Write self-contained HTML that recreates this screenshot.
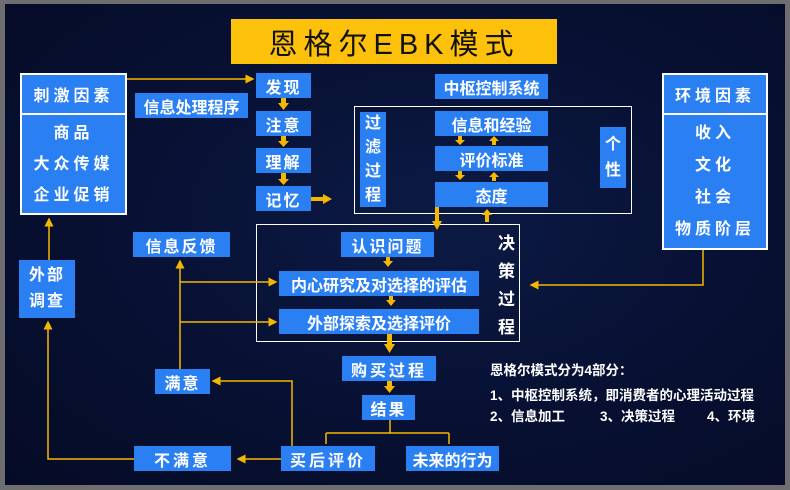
<!DOCTYPE html>
<html><head><meta charset="utf-8"><style>
*{margin:0;padding:0;box-sizing:border-box}
body{width:790px;height:490px;background:#6e6e70;position:relative;overflow:hidden;font-family:"Liberation Sans","Noto Sans CJK SC",sans-serif}
#bg{position:absolute;left:5px;top:4px;width:780px;height:481px;background:radial-gradient(ellipse at 55% 45%,#0c1a44 0%,#081134 50%,#050b26 100%)}
.b{position:absolute;background:#2a7ff3;color:#fff;font-weight:bold;font-size:16px;display:flex;align-items:center;justify-content:center;letter-spacing:2px;white-space:nowrap}
.w{border:2px solid #fff}
.f{position:absolute;border:1.5px solid #fff}
.t{position:absolute;color:#fff;font-weight:bold;font-size:13.5px;white-space:nowrap}
svg{position:absolute;left:0;top:0}
</style></head><body>
<div id="bg"></div>
<div class="b" style="left:231px;top:19px;width:326px;height:45px;background:#fdc10b;color:#111;font-size:29px;font-weight:normal;letter-spacing:6px">恩格尔EBK模式</div>

<div class="f" style="left:354px;top:106px;width:278px;height:108px"></div>
<div class="f" style="left:256px;top:224px;width:264px;height:118px"></div>

<div class="b w" style="left:20px;top:73px;width:107px;height:142px;flex-direction:column;justify-content:flex-start;letter-spacing:4px">
 <div style="height:40px;width:100%;border-bottom:2px solid #fff;display:flex;align-items:center;justify-content:center">刺激因素</div>
 <div style="line-height:31px;margin-top:3px;text-align:center">商品<br>大众传媒<br>企业促销</div></div>
<div class="b w" style="left:662px;top:73px;width:106px;height:177px;flex-direction:column;justify-content:flex-start;letter-spacing:4px">
 <div style="height:40px;width:100%;border-bottom:2px solid #fff;display:flex;align-items:center;justify-content:center">环境因素</div>
 <div style="line-height:32px;margin-top:3px;text-align:center">收入<br>文化<br>社会<br>物质阶层</div></div>

<div class="b" style="left:135px;top:93px;width:113px;height:25px;letter-spacing:0">信息处理程序</div>
<div class="b" style="left:256px;top:73px;width:55px;height:25px">发现</div>
<div class="b" style="left:256px;top:111px;width:55px;height:25px">注意</div>
<div class="b" style="left:256px;top:148px;width:55px;height:25px">理解</div>
<div class="b" style="left:256px;top:186px;width:55px;height:25px">记忆</div>
<div class="b" style="left:435px;top:74px;width:113px;height:25px;letter-spacing:0">中枢控制系统</div>
<div class="b" style="left:360px;top:112px;width:26px;height:95px;line-height:24px;white-space:normal;text-align:center;letter-spacing:0">过<br>滤<br>过<br>程</div>
<div class="b" style="left:435px;top:111px;width:113px;height:25px;letter-spacing:0">信息和经验</div>
<div class="b" style="left:435px;top:146px;width:113px;height:25px;letter-spacing:0">评价标准</div>
<div class="b" style="left:435px;top:182px;width:113px;height:25px;letter-spacing:0">态度</div>
<div class="b" style="left:600px;top:127px;width:26px;height:61px;line-height:26px;white-space:normal;text-align:center;letter-spacing:0">个<br>性</div>

<div class="b" style="left:133px;top:232px;width:97px;height:25px">信息反馈</div>
<div class="b" style="left:19px;top:260px;width:56px;height:58px;line-height:26px;white-space:normal;text-align:center">外部<br>调查</div>
<div class="b" style="left:341px;top:232px;width:93px;height:25px">认识问题</div>
<div class="b" style="left:279px;top:271px;width:200px;height:25px;letter-spacing:0">内心研究及对选择的评估</div>
<div class="b" style="left:279px;top:309px;width:200px;height:25px;letter-spacing:0">外部探索及选择评价</div>
<div class="t" style="left:498px;top:230px;font-size:17px;line-height:28px;white-space:normal;width:24px">决<br>策<br>过<br>程</div>
<div class="b" style="left:342px;top:356px;width:94px;height:25px;letter-spacing:3px">购买过程</div>
<div class="b" style="left:362px;top:395px;width:53px;height:25px">结果</div>
<div class="b" style="left:281px;top:446px;width:94px;height:25px;letter-spacing:3px">买后评价</div>
<div class="b" style="left:406px;top:446px;width:93px;height:25px;letter-spacing:0">未来的行为</div>
<div class="b" style="left:155px;top:369px;width:55px;height:25px">满意</div>
<div class="b" style="left:134px;top:446px;width:97px;height:25px;letter-spacing:3px">不满意</div>

<div class="t" style="left:490px;top:359px">恩格尔模式分为4部分：</div>
<div class="t" style="left:490px;top:384px">1、中枢控制系统，即消费者的心理活动过程</div>
<div class="t" style="left:490px;top:405px">2、信息加工</div>
<div class="t" style="left:600px;top:405px">3、决策过程</div>
<div class="t" style="left:707px;top:405px">4、环境</div>

<svg width="790" height="490">
<defs>
<marker id="a" markerWidth="6" markerHeight="6" refX="5" refY="3" orient="auto"><path d="M0,0L6,3L0,6z" fill="#f5b800"/></marker>
</defs>
<g stroke="#f5b800" stroke-width="1.5" fill="none">
<path d="M127,79H253" marker-end="url(#a)"/>
<path d="M49,260V219" marker-end="url(#a)"/>
<path d="M134,459H48V322" marker-end="url(#a)"/>
<path d="M281,459H238" marker-end="url(#a)"/>
<path d="M292,446V381H213" marker-end="url(#a)"/>
<path d="M180,369V261" marker-end="url(#a)"/>
<path d="M180,282H276" marker-end="url(#a)"/>
<path d="M180,322H276" marker-end="url(#a)"/>
<path d="M703,250V285H531" marker-end="url(#a)"/>
<path d="M390,420V433M326,433H449M326,433V444M449,433V444" />
</g>
<g fill="#f5b800">
<path d="M281,98h5v5h3l-5.5,7l-5.5-7h3z"/>
<path d="M281,136h5v5h3l-5.5,6l-5.5-6h3z"/>
<path d="M281,173h5v6h3l-5.5,6l-5.5-6h3z"/>
<path d="M311,197h12v-3l9,5l-9,5v-3h-12z"/>
<path d="M458,136h4v4h3l-5,5l-5-5h3z"/>
<path d="M458,171h4v4h3l-5,5l-5-5h3z"/>
<path d="M492,145h4v-4h3l-5-5l-5,5h3z"/>
<path d="M492,181h4v-4h3l-5-5l-5,5h3z"/>
<path d="M435,207h4v14h3l-5,9l-5-9h3z"/>
<path d="M485,222h4v-7h3l-5-6l-5,6h3z"/>
<path d="M386,257h4v4h3l-5,6l-5-6h3z"/>
<path d="M389,296h4v4h3l-5,6l-5-6h3z"/>
<path d="M387,334h5v10h3l-5.5,9l-5.5-9h3z"/>
<path d="M387,381h5v5h3l-5.5,7l-5.5-7h3z"/>
</g>
</svg>
</body></html>
